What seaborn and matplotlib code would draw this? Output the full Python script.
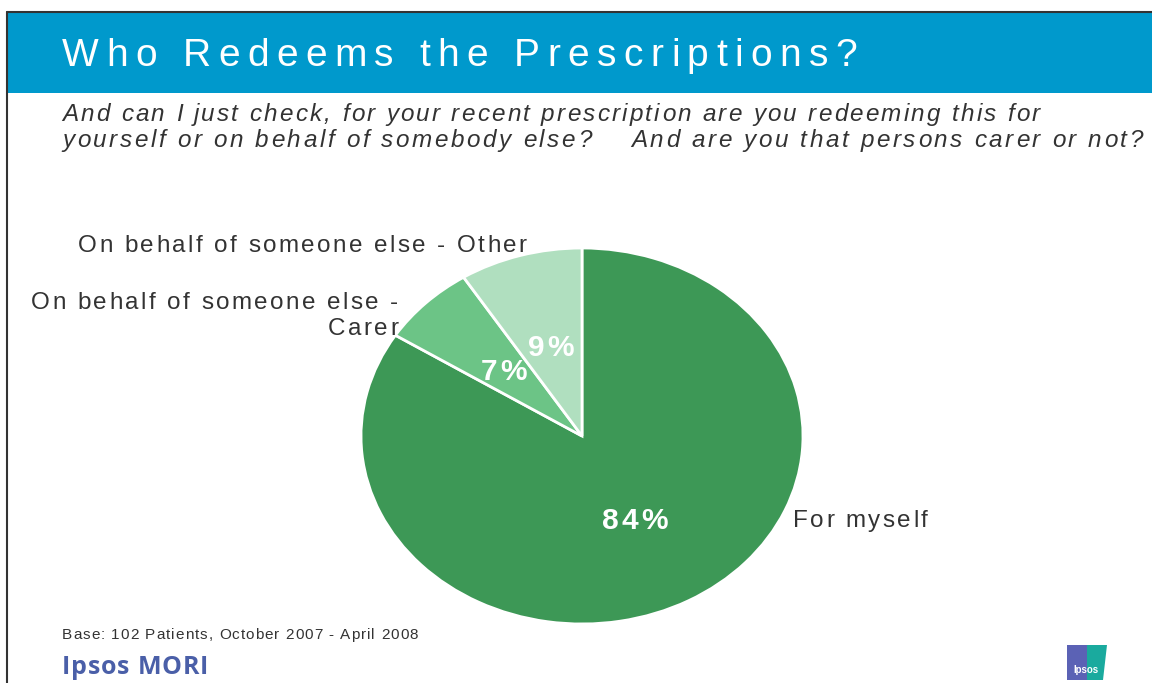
import matplotlib
matplotlib.use("Agg")
import matplotlib.pyplot as plt
import seaborn as sns
from matplotlib.lines import Line2D
from matplotlib.patches import Rectangle, Polygon
from matplotlib.font_manager import FontProperties, findfont
from matplotlib.ft2font import FT2Font

categories = ["For myself", "On behalf of someone else - Carer", "On behalf of someone else - Other"]
values = [84, 7, 9]
colors = ["#3d9856", "#6cc486", "#b0dfbf"]

title = "Who Redeems the Prescriptions?"
subtitle = ["And can I just check, for your recent prescription are you redeeming this for",
            "yourself or on behalf of somebody else?    And are you that persons carer or not?"]
base_note = "Base: 102 Patients, October 2007 - April 2008"

sns.set_theme(style="white")
plt.rcParams['font.family'] = ['Liberation Sans', 'DejaVu Sans']

W, H = 1152, 683
DPI = 100
fig = plt.figure(figsize=(W / DPI, H / DPI), dpi=DPI)
fig.patch.set_facecolor("white")


def fx(x):
    return x / W


def fy(y):
    return 1 - y / H


def tracked(x, yb, s, size, tracking=None, width=None, ha="left", family="Liberation Sans",
            style="normal", weight="normal", color="#333333"):
    prop = FontProperties(family=family, style=style, weight=weight, size=size)
    font = FT2Font(findfont(prop))
    font.set_size(size, DPI)
    adv = [font.load_char(ord(c)).linearHoriAdvance / 65536 for c in s]
    natural = sum(adv)
    if width is not None:
        tracking = (width - natural) / max(len(s) - 1, 1)
    total = natural + tracking * (len(s) - 1)
    if ha == "right":
        pos = x - total
    elif ha == "center":
        pos = x - total / 2
    else:
        pos = x
    for c, a in zip(s, adv):
        if c != " ":
            fig.text(fx(pos), fy(yb), c, fontproperties=prop, color=color, ha="left", va="baseline")
        pos += a + tracking


# title bar and frame
fig.add_artist(Rectangle((fx(7), fy(93)), 1 - fx(7), fy(12) - fy(93), transform=fig.transFigure,
                         facecolor="#0099cc", edgecolor="none"))
fig.add_artist(Line2D([fx(7), 1], [fy(12), fy(12)], transform=fig.transFigure, color="#333333", lw=1.5))
fig.add_artist(Line2D([fx(7), fx(7)], [fy(12), 0], transform=fig.transFigure, color="#333333", lw=1.5))

tracked(62, 66, title, 28, width=795, color="white")
tracked(62, 121, subtitle[0], 17.5, width=978, style="italic")
tracked(62, 147, subtitle[1], 17.5, width=1081, style="italic")

# pie
ax = fig.add_axes([fx(361), fy(624), fx(803) - fx(361), fy(248) - fy(624)])
wedges, texts, autotexts = ax.pie(values, colors=colors, startangle=90, counterclock=False,
                                  autopct=lambda p: f"{p:.0f}%", pctdistance=0.5, radius=1,
                                  wedgeprops=dict(edgecolor="white", linewidth=2))
ax.set_aspect("auto")
ax.set_xlim(-1, 1)
ax.set_ylim(-1, 1)
ax.axis("off")

pct_size = 21.5
for t in autotexts:
    t.set_visible(False)
    px, py = ax.transData.transform(t.get_position())
    ypix = H - py
    tracked(px, ypix + 0.716 * pct_size * DPI / 72 / 2, t.get_text(), pct_size, tracking=3,
            ha="center", weight="bold", color="white")

lab_size = 17.5
tracked(793, 527, categories[0], lab_size, tracking=2.4)
tracked(398, 309, "On behalf of someone else -", lab_size, tracking=2.4, ha="right")
tracked(398, 335, "Carer", lab_size, tracking=2.4, ha="right")
tracked(78, 252, categories[2], lab_size, tracking=2.4)

tracked(62, 639, base_note, 11, width=356)
tracked(62, 674, "Ipsos MORI", 18, width=146, family="Open Sans", weight="bold", color="#4a5fa8")

# Ipsos logo
fig.add_artist(Polygon([(fx(1067), fy(645)), (fx(1087), fy(645)), (fx(1087), fy(680)), (fx(1067), fy(680))],
                       closed=True, transform=fig.transFigure, facecolor="#5b62b5", edgecolor="none"))
fig.add_artist(Polygon([(fx(1087), fy(645)), (fx(1107), fy(645)), (fx(1103), fy(680)), (fx(1087), fy(680))],
                       closed=True, transform=fig.transFigure, facecolor="#1aaa9e", edgecolor="none"))
fig.text(fx(1086), fy(670), "Ipsos", color="white", fontsize=7, fontweight="bold", ha="center", va="center")

fig.savefig("out.png", dpi=DPI, facecolor="white")
